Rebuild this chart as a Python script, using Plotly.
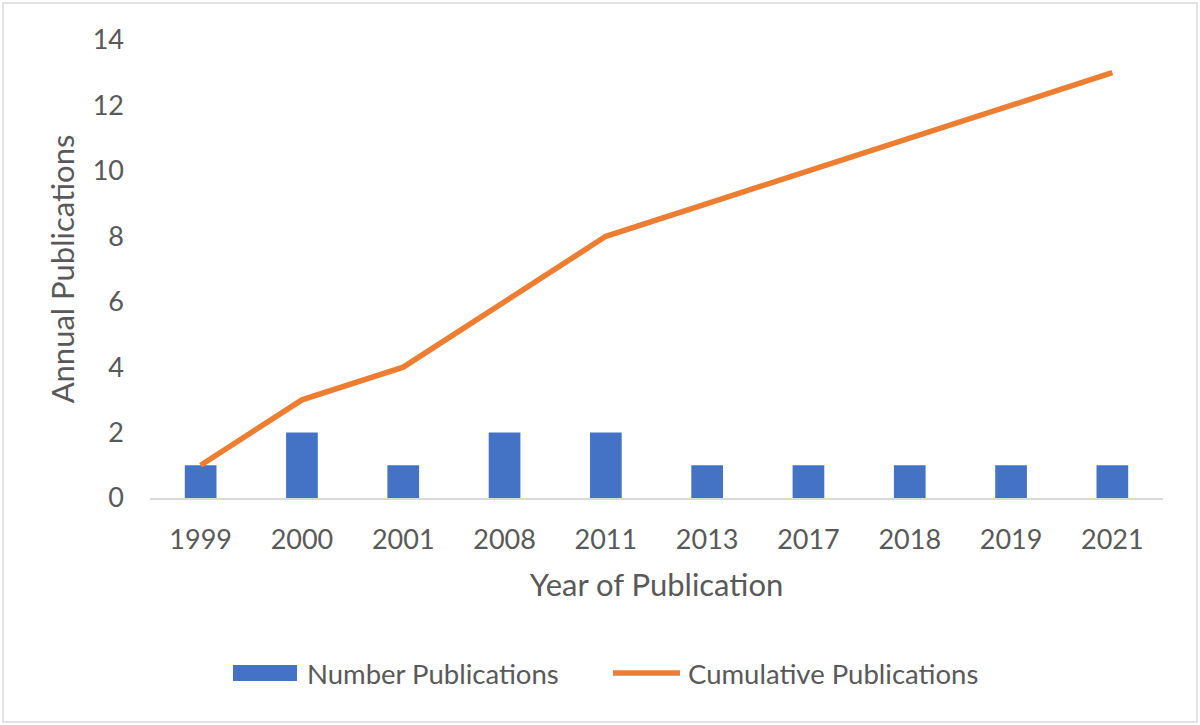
import plotly.graph_objects as go

years = ["1999", "2000", "2001", "2008", "2011", "2013", "2017", "2018", "2019", "2021"]
annual = [1, 2, 1, 2, 2, 1, 1, 1, 1, 1]
cumulative = [1, 3, 4, 6, 8, 9, 10, 11, 12, 13]
y_ticks = [0, 2, 4, 6, 8, 10, 12, 14]
series_names = ["Number Publications", "Cumulative Publications"]
series_colors = ["#4472C4", "#ED7D31"]

font_family = "Lato, 'Open Sans', sans-serif"
text_color = "#595959"

fig = go.Figure()
fig.add_trace(go.Bar(x=years, y=annual, name=series_names[0], showlegend=False,
                     marker=dict(color=series_colors[0], line=dict(width=0))))
fig.add_trace(go.Scatter(x=years, y=cumulative, name=series_names[1], showlegend=False,
                         mode="lines", line=dict(color=series_colors[1], width=5.5)))

l, r, t, b = 150, 37, 40, 227
W, H = 1200, 725
pw, ph = W - l - r, H - t - b

def px_x(v):
    return (v - l) / pw

def px_y(v):
    return (t + ph - v) / ph

shapes = [
    dict(type="rect", xref="paper", yref="paper",
         x0=px_x(3), x1=px_x(W - 3), y0=px_y(H - 3), y1=px_y(3),
         line=dict(color="#D9D9D9", width=1.5), layer="below"),
    # legend keys
    dict(type="rect", xref="paper", yref="paper",
         x0=px_x(233), x1=px_x(297), y0=px_y(681), y1=px_y(665),
         fillcolor=series_colors[0], line=dict(width=0)),
    dict(type="line", xref="paper", yref="paper",
         x0=px_x(613), x1=px_x(680), y0=px_y(673), y1=px_y(673),
         line=dict(color=series_colors[1], width=5.5)),
]
annotations = [
    dict(xref="paper", yref="paper", x=px_x(305), y=px_y(673), xanchor="left", yanchor="middle",
         text=series_names[0], showarrow=False, font=dict(size=27.5, color=text_color)),
    dict(xref="paper", yref="paper", x=px_x(686), y=px_y(673), xanchor="left", yanchor="middle",
         text=series_names[1], showarrow=False, font=dict(size=27.5, color=text_color)),
]

fig.update_layout(
    width=W, height=H,
    margin=dict(l=l, r=r, t=t, b=b),
    paper_bgcolor="white", plot_bgcolor="white",
    font=dict(family=font_family, color=text_color, size=27),
    bargap=0.687,
    showlegend=False,
    xaxis=dict(type="category", showgrid=False, showline=True,
               linecolor="#D9D9D9", linewidth=2, ticks="", ticklabelstandoff=17,
               tickfont=dict(size=27, color=text_color),
               title=dict(text="Year of Publication", font=dict(size=31, color=text_color), standoff=20)),
    yaxis=dict(range=[0, 14], tickvals=y_ticks, showgrid=False, zeroline=False,
               showline=False, ticks="", ticklabelstandoff=25,
               tickfont=dict(size=27, color=text_color),
               title=dict(text="Annual Publications", font=dict(size=31, color=text_color), standoff=8)),
    shapes=shapes,
    annotations=annotations,
)

fig.write_html("out.html", config={"displayModeBar": False},
               post_script="document.body.style.margin='0';")
